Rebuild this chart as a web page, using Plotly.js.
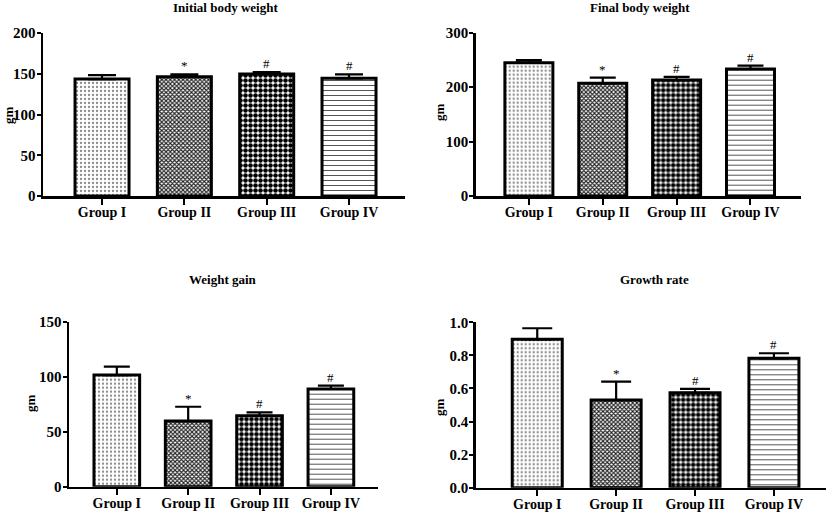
<!DOCTYPE html>
<html>
<head>
<meta charset="utf-8">
<script src="https://cdn.plot.ly/plotly-3.0.1.min.js"></script>
<style>html,body{margin:0;padding:0;background:#fff;}#chart{width:828px;height:512px;}</style>
</head>
<body>
<div id="chart"></div>
<script>
const groups = ['Group I', 'Group II', 'Group III', 'Group IV'];

const initialMean = [143.5, 146.4, 149.7, 144.4];
const initialErr  = [4.9, 2.9, 2.3, 4.9];
const initialSig  = ['', '*', '#', '#'];

const finalMean = [244.9, 207.0, 213.0, 233.3];
const finalErr  = [4.9, 10.3, 6.0, 6.1];
const finalSig  = ['', '*', '#', '#'];

const gainMean = [101.5, 59.7, 64.5, 88.8];
const gainErr  = [7.6, 13.0, 3.1, 3.0];
const gainSig  = ['', '*', '#', '#'];

const rateMean = [0.897, 0.530, 0.574, 0.782];
const rateErr  = [0.067, 0.111, 0.023, 0.031];
const rateSig  = ['', '*', '#', '#'];

const panelTitles = ['Initial body weight', 'Final body weight', 'Weight gain', 'Growth rate'];
const yLabel = 'gm';

const FONT = '"Liberation Serif", "Times New Roman", serif';

const panels = [
  {mean: initialMean, err: initialErr, sig: initialSig, title: panelTitles[0],
   xd: [43/828, 405/828], yd: [1-196/512, 1-33/512], xr: [-0.717, 3.68], yr: [0, 200], dt: 50, bw: 0.656, cap: 14,
   tx: 225/828, ty: 1-7/512, gx: 8/828, gy: 1-115/512, fmt: ''},
  {mean: finalMean, err: finalErr, sig: finalSig, title: panelTitles[1],
   xd: [475.7/828, 800.7/828], yd: [1-196/512, 1-32.7/512], xr: [-0.72, 3.68], yr: [0, 300], dt: 100, bw: 0.65, cap: 13,
   tx: 640/828, ty: 1-7/512, gx: 439/828, gy: 1-112/512, fmt: ''},
  {mean: gainMean, err: gainErr, sig: gainSig, title: panelTitles[2],
   xd: [69/828, 378/828], yd: [1-486.7/512, 1-321.7/512], xr: [-0.67, 3.66], yr: [0, 150], dt: 50, bw: 0.64, cap: 13,
   tx: 223/828, ty: 1-279/512, gx: 30/828, gy: 1-403/512, fmt: ''},
  {mean: rateMean, err: rateErr, sig: rateSig, title: panelTitles[3],
   xd: [475.7/828, 826/828], yd: [1-487.7/512, 1-322.3/512], xr: [-0.78, 3.66], yr: [0, 1.0], dt: 0.2, bw: 0.634, cap: 15,
   tx: 654/828, ty: 1-279/512, gx: 439/828, gy: 1-407/512, fmt: '.1f'}
];

const patShapes = ['.', 'x', '.', '-'];
const patFg = ['#8a8a8a', '#222222', '#000000', '#555555'];
const patBg = ['#ffffff', '#ffffff', '#ffffff', '#ffffff'];
const patSize = [4, 3, 5, 5];
const patSolid = [0.25, 0.6, 0.65, 0.2];

const data = [];
const annotations = [];
const layout = {
  width: 828, height: 512,
  margin: {l: 0, r: 0, t: 0, b: 0},
  paper_bgcolor: '#ffffff', plot_bgcolor: 'rgba(0,0,0,0)',
  showlegend: false,
  font: {family: FONT, color: '#000', size: 14},
  annotations: annotations
};

panels.forEach((p, i) => {
  const n = i === 0 ? '' : String(i + 1);
  data.push({
    type: 'bar', x: groups, y: p.mean,
    xaxis: 'x' + n, yaxis: 'y' + n,
    width: groups.map(() => p.bw),
    marker: {
      color: '#ffffff',
      line: {color: '#000', width: 3},
      pattern: {shape: patShapes, fgcolor: patFg, bgcolor: patBg, size: patSize, solidity: patSolid, fillmode: 'replace'}
    },
    error_y: {type: 'data', symmetric: false, array: p.err, arrayminus: p.err.map(() => 0),
              color: '#000', thickness: 2.2, width: p.cap},
    hoverinfo: 'skip'
  });
  layout['xaxis' + n] = {
    domain: p.xd, anchor: 'y' + n, type: 'category', range: p.xr,
    showline: true, linecolor: '#000', linewidth: 2.5,
    ticks: 'outside', ticklen: 6, tickwidth: 2, tickcolor: '#000', ticklabelstandoff: -4,
    showgrid: false, zeroline: false, fixedrange: true,
    tickfont: {family: FONT, size: 14, color: '#000', weight: 'bold'}
  };
  layout['yaxis' + n] = {
    domain: p.yd, anchor: 'x' + n, range: p.yr, dtick: p.dt, tick0: 0, tickformat: p.fmt,
    showline: true, linecolor: '#000', linewidth: 2.5,
    ticks: 'outside', ticklen: 4, tickwidth: 2, tickcolor: '#000', ticklabelstandoff: -2,
    showgrid: false, zeroline: false, fixedrange: true,
    tickfont: {family: FONT, size: 15, color: '#000', weight: 'bold'}
  };
  annotations.push({
    xref: 'paper', yref: 'paper', x: p.tx, y: p.ty, xanchor: 'center', yanchor: 'middle',
    text: '<b>' + p.title + '</b>', showarrow: false, font: {family: FONT, size: 13, color: '#000'}
  });
  annotations.push({
    xref: 'paper', yref: 'paper', x: p.gx, y: p.gy, xanchor: 'center', yanchor: 'middle', textangle: -90,
    text: '<b>' + yLabel + '</b>', showarrow: false, font: {family: FONT, size: 13, color: '#000'}
  });
  p.sig.forEach((s, j) => {
    if (!s) return;
    annotations.push({
      xref: 'x' + n, yref: 'y' + n, x: groups[j], y: p.mean[j] + p.err[j],
      xanchor: 'center', yanchor: 'bottom', yshift: -1,
      text: s, showarrow: false, font: {family: FONT, size: 13, color: '#000'}
    });
  });
});

Plotly.newPlot('chart', data, layout, {staticPlot: true});
</script>
</body>
</html>
